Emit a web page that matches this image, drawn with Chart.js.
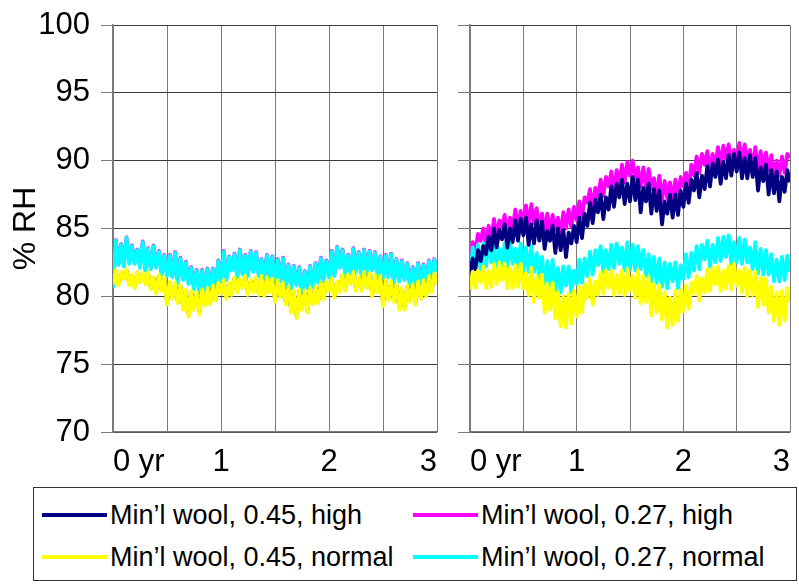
<!DOCTYPE html>
<html>
<head>
<meta charset="utf-8">
<title>Relative humidity, mineral wool</title>
<script src="https://cdn.jsdelivr.net/npm/chart.js@4.4.0/dist/chart.umd.min.js"></script>
<style>
  body { margin: 0; background: #fff; width: 799px; height: 584px; overflow: hidden; position: relative;
         font-family: "Liberation Sans", Arial, sans-serif; }
  .panel { position: absolute; top: 0; height: 486px; }
  #leftWrap { left: 0; width: 450px; }
  #rightWrap { left: 450px; width: 349px; }
  #legend { position: absolute; left: 33px; top: 487px; width: 764px; height: 94px; border: 1px solid #333; box-sizing: border-box; }
  .item { position: absolute; font-size: 27px; line-height: 30px; color: #000; white-space: nowrap; }
  .swatch { position: absolute; width: 65px; height: 4px; }
</style>
</head>
<body>
<div id="leftWrap" class="panel"><canvas id="leftChart"></canvas></div>
<div id="rightWrap" class="panel"><canvas id="rightChart"></canvas></div>
<div id="legend"></div>

<script>
// sample times: one every 1/40 yr over three years
const STEPS = 120;
const years = [];
for (let i = 0; i <= STEPS; i++) years.push(i / 40);

const seriesNames = ["Min\u2019l wool, 0.45, high", "Min\u2019l wool, 0.27, high",
                     "Min\u2019l wool, 0.45, normal", "Min\u2019l wool, 0.27, normal"];
const seriesColors = ["#000080", "#ff00ff", "#ffff00", "#00ffff"];

const xTickValues = [0, 1, 2, 3];
const xTickText = ["0 yr", "1", "2", "3"];

// left panel, % RH (one row = 0.3 yr)
const leftNavy = [
  81.1, 81.8, 81.0, 81.7,  81.5, 81.9, 81.0, 81.5,  80.8, 81.7, 81.2, 81.6,
  81.1, 81.7, 80.7, 81.3,  80.4, 81.5, 80.6, 81.3,  79.6, 81.0, 80.0, 80.9,
  79.7, 80.7, 79.2, 80.4,  78.7, 80.3, 79.2, 80.2,  78.9, 80.4, 79.5, 80.5,
  79.6, 80.7, 79.9, 80.9,  80.4, 81.1, 80.0, 80.9,  80.3, 81.3, 80.5, 81.2,
  80.8, 81.4, 80.3, 81.1,  80.5, 81.3, 80.3, 81.4,  80.2, 81.3, 80.5, 81.2,
  79.8, 81.1, 80.1, 80.9,  79.6, 80.6, 79.0, 80.3,  78.6, 80.4, 79.2, 80.3,
  79.0, 80.5, 79.6, 80.6,  79.7, 80.9, 80.0, 81.0,  80.6, 81.2, 80.1, 81.0,
  80.5, 81.5, 80.6, 81.5,  81.1, 81.7, 80.6, 81.4,  80.6, 81.7, 80.8, 81.6,
  80.2, 81.5, 80.5, 81.4,  79.5, 81.1, 79.9, 81.0,  79.8, 80.8, 79.2, 80.5,
  79.2, 80.7, 79.8, 80.8,  79.6, 81.0, 80.0, 81.1,  80.2, 81.4, 80.5, 81.6,
  81.1];
const leftMagenta = [
  80.7, 84.15, 82.4, 83.85,  82.3, 84.35, 82.5, 83.75,  82.5, 83.45, 82.2, 84.05,
  82.0, 83.55, 82.1, 83.75,  82.2, 83.35, 81.7, 83.05,  81.6, 83.05, 81.5, 83.25,
  81.1, 82.85, 81.3, 82.55,  81.0, 82.15, 80.6, 81.95,  80.4, 81.95, 80.6, 82.05,
  80.7, 82.05, 80.6, 82.65,  81.2, 83.35, 81.3, 82.95,  82.0, 83.15, 81.5, 83.45,
  81.7, 83.05, 81.6, 83.35,  81.9, 83.25, 81.6, 82.75,  81.4, 83.05, 81.5, 82.95,
  81.1, 82.75, 81.2, 82.85,  80.8, 82.35, 80.7, 82.25,  80.9, 82.15, 80.4, 81.85,
  80.7, 82.25, 80.8, 82.45,  81.1, 82.85, 81.2, 82.65,  81.5, 83.35, 81.6, 83.65,
  82.2, 83.45, 81.7, 83.05,  81.8, 83.55, 81.9, 83.25,  81.7, 83.45, 81.8, 83.35,
  82.0, 83.25, 81.5, 82.95,  81.4, 83.05, 81.5, 83.15,  81.1, 82.75, 81.2, 82.65,
  81.3, 82.45, 80.8, 82.15,  80.8, 82.45, 80.9, 82.35,  81.0, 82.65, 81.1, 82.75,
  81.9];
const leftYellow = [
  80.9, 81.9, 80.8, 81.8,  81.3, 82.0, 80.8, 81.6,  80.6, 81.8, 81.0, 81.7,
  80.9, 81.8, 80.5, 81.4,  80.2, 81.6, 80.4, 81.4,  79.4, 81.1, 79.8, 81.0,
  79.5, 80.8, 79.0, 80.5,  78.5, 80.4, 79.0, 80.3,  78.7, 80.5, 79.3, 80.6,
  79.4, 80.8, 79.7, 81.0,  80.2, 81.2, 79.8, 81.0,  80.1, 81.4, 80.3, 81.3,
  80.6, 81.5, 80.1, 81.2,  80.3, 81.4, 80.1, 81.5,  80.0, 81.4, 80.3, 81.3,
  79.6, 81.2, 79.9, 81.0,  79.4, 80.7, 78.8, 80.4,  78.4, 80.5, 79.0, 80.4,
  78.8, 80.6, 79.4, 80.7,  79.5, 81.0, 79.8, 81.1,  80.4, 81.3, 79.9, 81.1,
  80.3, 81.6, 80.4, 81.6,  80.9, 81.8, 80.4, 81.5,  80.4, 81.8, 80.6, 81.7,
  80.0, 81.6, 80.3, 81.5,  79.3, 81.2, 79.7, 81.1,  79.6, 80.9, 79.0, 80.6,
  79.0, 80.8, 79.6, 80.9,  79.4, 81.1, 79.8, 81.2,  80.0, 81.5, 80.3, 81.7,
  80.9];
const leftCyan = [
  80.6, 84.1, 82.3, 83.8,  82.2, 84.3, 82.4, 83.7,  82.4, 83.4, 82.1, 84.0,
  81.9, 83.5, 82.0, 83.7,  82.1, 83.3, 81.6, 83.0,  81.5, 83.0, 81.4, 83.2,
  81.0, 82.8, 81.2, 82.5,  80.9, 82.1, 80.5, 81.9,  80.3, 81.9, 80.5, 82.0,
  80.6, 82.0, 80.5, 82.6,  81.1, 83.3, 81.2, 82.9,  81.9, 83.1, 81.4, 83.4,
  81.6, 83.0, 81.5, 83.3,  81.8, 83.2, 81.5, 82.7,  81.3, 83.0, 81.4, 82.9,
  81.0, 82.7, 81.1, 82.8,  80.7, 82.3, 80.6, 82.2,  80.8, 82.1, 80.3, 81.8,
  80.6, 82.2, 80.7, 82.4,  81.0, 82.8, 81.1, 82.6,  81.4, 83.3, 81.5, 83.6,
  82.1, 83.4, 81.6, 83.0,  81.7, 83.5, 81.8, 83.2,  81.6, 83.4, 81.7, 83.3,
  81.9, 83.2, 81.4, 82.9,  81.3, 83.0, 81.4, 83.1,  81.0, 82.7, 81.1, 82.6,
  81.2, 82.4, 80.7, 82.1,  80.7, 82.4, 80.8, 82.3,  80.9, 82.6, 81.0, 82.7,
  81.8];

// right panel, % RH (one row = 0.3 yr)
const rightNavy = [
  81.5, 82.8, 82.0, 83.4,  82.6, 83.7, 83.1, 84.4,  83.4, 85.0, 83.6, 84.9,
  84.2, 85.3, 83.6, 85.0,  84.0, 85.6, 84.1, 85.7,  84.5, 85.8, 83.8, 85.3,
  83.9, 85.6, 84.1, 85.5,  83.5, 84.8, 84.1, 85.2,  83.2, 85.0, 83.4, 84.9,
  82.9, 84.7, 83.9, 85.2,  84.0, 85.8, 84.3, 86.1,  85.2, 86.9, 85.4, 87.1,
  86.2, 87.5, 85.7, 87.3,  86.4, 88.1, 86.6, 88.3,  87.3, 88.6, 86.8, 88.3,
  87.0, 88.8, 87.1, 88.6,  86.2, 88.0, 87.0, 88.3,  86.1, 87.9, 86.3, 87.8,
  85.3, 87.0, 86.1, 87.5,  85.8, 87.5, 86.0, 87.8,  86.6, 88.3, 86.9, 88.6,
  87.8, 89.1, 87.3, 88.9,  87.9, 89.6, 88.1, 89.8,  88.8, 90.1, 88.3, 89.9,
  88.7, 90.4, 88.9, 90.5,  89.2, 90.6, 88.7, 90.2,  88.7, 90.4, 88.8, 90.2,
  87.8, 89.5, 88.5, 89.7,  87.5, 89.3, 87.6, 89.2,  87.0, 88.8, 87.7, 89.3,
  88.4];
const rightMagenta = [
  82.6, 84.0, 83.4, 84.6,  84.1, 85.0, 83.7, 85.2,  84.2, 85.7, 84.4, 85.6,
  85.1, 86.0, 84.6, 85.8,  85.0, 86.4, 85.1, 86.3,  85.3, 86.7, 85.2, 86.8,
  85.4, 86.5, 84.8, 86.1,  84.7, 86.1, 84.8, 86.0,  84.9, 85.8, 84.5, 86.2,
  85.0, 86.4, 85.1, 86.6,  85.6, 87.0, 85.8, 87.3,  86.9, 87.9, 86.5, 88.0,
  87.2, 88.6, 87.4, 88.8,  88.1, 89.2, 87.7, 89.3,  88.3, 89.7, 88.4, 89.9,
  88.9, 90.0, 88.4, 89.5,  88.1, 89.5, 88.0, 89.4,  87.9, 88.7, 87.3, 88.9,
  87.1, 88.5, 87.2, 88.4,  87.1, 88.6, 87.4, 88.8,  88.1, 89.1, 88.0, 89.7,
  88.9, 90.3, 89.1, 90.5,  89.7, 90.7, 89.2, 90.5,  89.6, 91.0, 89.7, 91.1,
  90.1, 91.2, 89.7, 90.8,  89.9, 91.3, 90.0, 91.2,  89.9, 90.8, 89.4, 91.0,
  89.3, 90.7, 89.4, 90.6,  89.3, 90.4, 88.9, 90.0,  88.9, 90.3, 89.1, 90.5,
  90.2];
const rightYellow = [
  80.5, 81.8, 80.6, 81.9,  81.0, 82.2, 80.6, 81.9,  80.7, 82.4, 80.9, 82.5,
  81.2, 82.4, 80.6, 82.1,  80.6, 82.3, 80.7, 82.4,  80.6, 81.7, 80.1, 82.1,
  79.6, 81.5, 79.9, 81.6,  78.8, 80.9, 79.0, 81.0,  78.4, 80.3, 77.8, 80.0,
  77.7, 80.2, 78.0, 80.4,  78.5, 80.7, 78.8, 80.9,  79.9, 81.3, 79.4, 81.1,
  80.1, 81.8, 80.2, 81.9,  80.6, 81.9, 80.1, 81.6,  80.2, 81.9, 80.1, 82.0,
  80.4, 81.5, 79.9, 81.9,  79.5, 81.5, 79.6, 81.4,  78.6, 80.9, 78.8, 80.8,
  78.3, 80.3, 77.7, 79.9,  77.9, 80.4, 78.2, 80.5,  78.9, 80.8, 79.1, 81.0,
  80.2, 81.5, 79.7, 81.3,  80.3, 82.0, 80.4, 82.1,  80.9, 82.2, 80.4, 81.9,
  80.6, 82.3, 80.5, 82.4,  80.8, 81.9, 80.3, 82.1,  80.0, 81.9, 80.1, 81.8,
  79.2, 81.4, 79.4, 81.3,  78.8, 80.7, 78.2, 80.3,  77.9, 80.4, 78.2, 80.6,
  79.6];
const rightCyan = [
  80.8, 83.6, 82.0, 83.8,  82.0, 83.9, 82.2, 84.1,  82.5, 84.0, 82.0, 83.5,
  82.2, 83.9, 82.1, 84.1,  82.4, 83.5, 82.0, 83.9,  81.9, 83.6, 81.8, 83.7,
  81.8, 83.2, 81.2, 82.9,  80.9, 82.6, 80.8, 82.7,  80.4, 82.1, 80.3, 82.2,
  80.8, 82.2, 80.3, 81.9,  80.9, 82.7, 81.0, 82.8,  81.5, 83.3, 81.6, 83.4,
  82.3, 83.7, 81.8, 83.4,  82.0, 83.8, 82.1, 83.9,  82.4, 83.6, 81.9, 84.0,
  82.0, 83.8, 81.9, 83.7,  82.0, 83.4, 81.5, 83.1,  81.1, 82.9, 81.0, 82.8,
  80.7, 82.5, 80.6, 82.4,  81.1, 82.5, 80.6, 82.3,  81.3, 83.1, 81.4, 83.2,
  81.9, 83.7, 82.0, 83.8,  82.7, 84.1, 82.2, 83.8,  82.5, 84.3, 82.6, 84.4,
  82.9, 84.5, 82.4, 84.0,  82.5, 84.3, 82.4, 84.2,  82.5, 83.6, 82.0, 84.0,
  81.7, 83.5, 81.6, 83.4,  81.6, 83.1, 81.1, 82.7,  81.1, 82.9, 81.2, 83.0,
  81.8];

// draw order: cyan on top, then yellow, navy, magenta underneath
const drawOrder = [1, 3, 0, 2];

const FONT = "'Liberation Sans', Arial, sans-serif";

function pairUp(values) {
  return values.map((v, i) => ({ x: years[i], y: v }));
}

function buildDatasets(lists) {
  return lists.map((vals, k) => ({
    label: seriesNames[k],
    data: pairUp(vals),
    borderColor: seriesColors[k],
    borderWidth: 3.8,
    borderJoinStyle: "round",
    pointRadius: 0,
    tension: 0,
    fill: false,
    order: drawOrder[k]
  }));
}

function makePanel(canvasId, lists, withLabels, axisWidth, padRight) {
  const ctx = document.getElementById(canvasId).getContext("2d");
  return new Chart(ctx, {
    type: "line",
    data: { datasets: buildDatasets(lists) },
    options: {
      responsive: true,
      maintainAspectRatio: false,
      animation: false,
      events: [],
      layout: { padding: { top: 25, right: padRight, bottom: 0, left: 0 } },
      plugins: { legend: { display: false }, tooltip: { enabled: false } },
      scales: {
        x: {
          type: "linear",
          min: 0, max: 3,
          grid: { color: "#7a7a7a", lineWidth: 1, drawTicks: false },
          border: { color: "#7a7a7a", width: 1.5 },
          ticks: {
            stepSize: 0.5,
            autoSkip: false,
            maxRotation: 0,
            align: "inner",
            padding: 12,
            color: "#000",
            font: { family: FONT, size: 31 },
            callback: v => {
              const k = xTickValues.indexOf(v);
              return k >= 0 ? xTickText[k] : "";
            }
          },
          afterFit: s => { s.height = 54; s.paddingLeft = 0; s.paddingRight = 0; }
        },
        y: {
          min: 70, max: 100,
          grid: { color: "#3a3a3a", lineWidth: 1, tickColor: "#7a7a7a", tickLength: 12 },
          border: { color: "#7a7a7a", width: 1.5 },
          ticks: {
            stepSize: 5,
            padding: 11,
            color: "#000",
            font: { family: FONT, size: 31 },
            callback: v => withLabels ? String(v) : ""
          },
          title: {
            display: withLabels,
            text: "% RH",
            color: "#000",
            font: { family: FONT, size: 32 },
            padding: { top: 7, bottom: 0 }
          },
          afterFit: s => { s.width = axisWidth; s.paddingTop = 0; s.paddingBottom = 0; }
        }
      }
    }
  });
}

makePanel("leftChart", [leftNavy, leftMagenta, leftYellow, leftCyan], true, 113, 13);
makePanel("rightChart", [rightNavy, rightMagenta, rightYellow, rightCyan], false, 20, 9);

// legend box underneath both panels
const legend = document.getElementById("legend");
const slots = [
  { sx: 8, tx: 76, cy: 27 },
  { sx: 379, tx: 447, cy: 27 },
  { sx: 8, tx: 76, cy: 69 },
  { sx: 379, tx: 447, cy: 69 }
];
seriesNames.forEach((name, k) => {
  const s = slots[k];
  const sw = document.createElement("div");
  sw.className = "swatch";
  sw.style.left = s.sx + "px";
  sw.style.top = (s.cy - 2) + "px";
  sw.style.background = seriesColors[k];
  legend.appendChild(sw);
  const tx = document.createElement("div");
  tx.className = "item";
  tx.style.left = s.tx + "px";
  tx.style.top = (s.cy - 15) + "px";
  tx.textContent = name;
  legend.appendChild(tx);
});
</script>
</body>
</html>
